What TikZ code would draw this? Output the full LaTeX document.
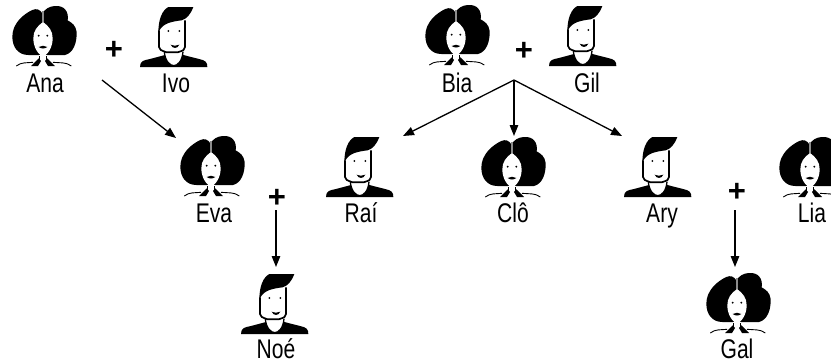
\documentclass[tikz,border=0pt]{standalone}
\usepackage{fontspec}
\setmainfont[FakeStretch=0.78]{Liberation Sans}
\newfontfamily\plusfont{Liberation Sans}
\usetikzlibrary{arrows.meta}
\tikzset{
  nametag/.style={inner sep=0pt,anchor=base,font=\fontsize{27}{27}\selectfont},
  plussign/.style={inner sep=0pt,font=\fontsize{31}{31}\plusfont\bfseries},
  descent/.style={line width=1.3pt,-{Triangle[length=11pt,width=8.5pt]}},
  woman/.pic={
    \begin{scope}[scale=1/3]
    \fill [black] (-1,-70) .. controls (-10,-84) and (-20,-86) .. (-32,-81)
      .. controls (-60,-68) and (-92,-40) .. (-92,-1)
      .. controls (-92,30) and (-75,54) .. (-44,54) -- (66,54)
      .. controls (90,48) and (102,20) .. (101,-15)
      .. controls (98,-35) and (88,-42) .. (74,-50)
      .. controls (78,-75) and (65,-95) .. (36,-93)
      .. controls (20,-92) and (5,-85) .. (-1,-70) -- cycle;
    \fill [white] (0,-45) .. controls (18,-32) and (29,-18) .. (29,4)
      .. controls (29,32) and (14,52) .. (0,60)
      .. controls (-14,52) and (-29,32) .. (-29,4)
      .. controls (-29,-18) and (-18,-32) .. (0,-45) -- cycle;
    \draw [black!45,line width=2pt] (0,-78) -- (0,-46);
    \fill [black] (-13,-4) circle (3.2) (13,-4) circle (3.2);
    \fill [black] (-13,30) .. controls (-5,25) and (5,25) .. (13,30)
      .. controls (5,36) and (-5,36) .. (-13,30) -- cycle;
    \fill [white] (-11,54) rectangle (11,72);
    \draw [black,line width=0.9pt] (-10,58) -- (-10,68) (10,58) -- (10,68);
    \fill [black] (-36,87) -- (-13,64) -- (-6,72) -- (-15,87) -- cycle;
    \fill [black] (36,87) -- (13,64) -- (6,72) -- (15,87) -- cycle;
    \draw [black,line width=0.9pt] (-80,87) .. controls (-65,75) and (-50,78) .. (-30,76);
    \draw [black,line width=0.9pt] (85,87) .. controls (70,75) and (52,78) .. (30,76);
    \end{scope}
    \coordinate (-n) at (0,-37);
    \coordinate (-nw) at (-35,-29);
  },
  man/.pic={
    \begin{scope}[scale=1/3]
    \fill [black] (-105,90) .. controls (-105,72) and (-95,70) .. (-75,66) -- (-30,54)
      -- (25,54) -- (72,66)
      .. controls (92,70) and (97,76) .. (97,90) -- cycle;
    \draw [black,fill=white,line width=1.3pt] (-32,44) .. controls (-30,72) and (-15,86) .. (-4,86)
      .. controls (8,86) and (22,72) .. (24,44);
    \draw [black,fill=white,line width=1.7pt] (-48,-20) -- (-48,30) .. controls (-48,38) and (-42,40) .. (-25,46)
      -- (8,46) .. controls (26,40) and (30,38) .. (30,30) -- (30,-50);
    \fill [black] (55,-90) -- (-20,-90) .. controls (-38,-80) and (-50,-55) .. (-50,-12)
      .. controls (-42,-35) and (-25,-45) .. (20,-50)
      .. controls (35,-55) and (45,-65) .. (55,-90) -- cycle;
    \fill [black] (-20,-18) circle (3.2) (13,-18) circle (3.2);
    \fill [black] (-13,23) .. controls (-3,27) and (5,27) .. (13,23)
      .. controls (8,36) and (-8,36) .. (-13,23) -- cycle;
    \end{scope}
    \coordinate (-n) at (0,-37);
    \coordinate (-nw) at (-37,-31);
    \coordinate (-ne) at (42,-31);
  }
}
\begin{document}
\begin{tikzpicture}[x=1pt,y=-1pt]
    \useasboundingbox (0,0) rectangle (831,362);
    \pic (ana) at (43,37) {woman};
    \pic (ivo) at (175,37) {man};
    \pic (eva) at (211,167) {woman};
    \pic (noe) at (276,304) {man};
    \pic (bia) at (456,36) {woman};
    \pic (gil) at (584,36) {man};
    \pic (rai) at (361,167) {man};
    \pic (clo) at (512,168) {woman};
    \pic (ary) at (659,167) {man};
    \pic (lia) at (810,168) {woman};
    \pic (gal) at (737,304) {woman};
    \node [nametag] (anaName) at (45,92.5) {Ana};
    \node [nametag] (ivoName) at (176,92.5) {Ivo};
    \node [nametag] (evaName) at (214,222) {Eva};
    \node [nametag] (noeName) at (276,358) {Noé};
    \node [nametag] (biaName) at (457,92.5) {Bia};
    \node [nametag] (gilName) at (587,92.5) {Gil};
    \node [nametag] (raiName) at (361,222) {Raí};
    \node [nametag] (cloName) at (513,222) {Clô};
    \node [nametag] (aryName) at (662,222) {Ary};
    \node [nametag] (liaName) at (812,222) {Lia};
    \node [nametag] (galName) at (737,358) {Gal};
    \node [plussign] (anaIvo) at (114,50) {+};
    \node [plussign] (biaGil) at (524,51) {+};
    \node [plussign] (evaNoe) at (277,198) {+};
    \node [plussign] (aryLia) at (737,192) {+};
    \coordinate (anaIvoStart) at (102,80);
    \coordinate (biaGilStart) at (514,80);
    \coordinate (evaNoeStart) at (276,210);
    \coordinate (aryLiaStart) at (735,210);
    \coordinate (cloTip) at (514,136);
    \draw [descent] (anaIvoStart) -- (eva-nw);
    \draw [descent] (biaGilStart) -- (rai-ne);
    \draw [descent] (biaGilStart) -- (cloTip);
    \draw [descent] (biaGilStart) -- (ary-nw);
    \draw [descent] (evaNoeStart) -- (evaNoeStart |- noe-n);
    \draw [descent] (aryLiaStart) -- (aryLiaStart |- gal-n);
\end{tikzpicture}
\end{document}
